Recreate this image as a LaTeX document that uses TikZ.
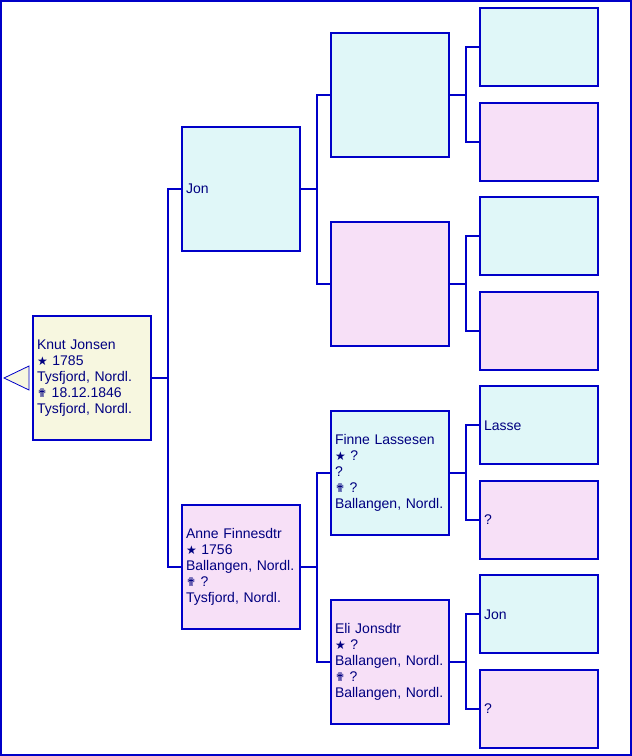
\documentclass[tikz,border=0pt]{standalone}
\usepackage{fontspec}
\setmainfont{Liberation Sans}
\newfontfamily\symfont{DejaVu Sans}
\definecolor{lineblue}{RGB}{0,0,200}
\definecolor{txtblue}{RGB}{0,0,128}
\definecolor{cyanfill}{RGB}{224,247,248}
\definecolor{pinkfill}{RGB}{247,224,247}
\definecolor{creamfill}{RGB}{247,247,224}
\newcommand{\born}{{\symfont\fontsize{12}{16}\selectfont ★}}
\newcommand{\died}{{\symfont\fontsize{12}{16}\selectfont ✟}}
\tikzset{
  personbox/.style={draw=lineblue, line width=2pt, rectangle, text=txtblue,
    text width=110pt, align=left, inner xsep=4pt, inner ysep=0pt,
    minimum height=124pt, font=\fontsize{14}{16}\selectfont},
  rootbox/.style={personbox, fill=creamfill},
  malebox/.style={personbox, fill=cyanfill},
  femalebox/.style={personbox, fill=pinkfill},
  leafbox/.style={minimum height=78pt}
}
\begin{document}
\begin{tikzpicture}[x=1pt, y=-1pt, grow=right, level distance=149pt,
    level 1/.style={sibling distance=378pt},
    level 2/.style={sibling distance=189pt},
    level 3/.style={sibling distance=94.5pt},
    edge from parent/.style={draw=lineblue, line width=2pt},
    edge from parent path={(\tikzparentnode.east) -- ++(16pt,0) |- (\tikzchildnode.west)}]
  \useasboundingbox (0,0) rectangle (632,756);
  \draw[lineblue, line width=2pt] (1,1) rectangle (631,755);
  \node (root) [rootbox] at (92,378) {Knut Jonsen\\ \born{} 1785\\ Tysfjord, Nordl.\\ \died{} 18.12.1846\\ Tysfjord, Nordl.}
    child { node (m) [femalebox] {Anne Finnesdtr\\ \born{} 1756\\ Ballangen, Nordl.\\ \died{} ?\\ Tysfjord, Nordl.}
      child { node (mm) [femalebox] {Eli Jonsdtr\\ \born{} ?\\ Ballangen, Nordl.\\ \died{} ?\\ Ballangen, Nordl.}
        child { node (mmm) [femalebox, leafbox] {?} }
        child { node (mmf) [malebox, leafbox] {Jon} } }
      child { node (mf) [malebox] {Finne Lassesen\\ \born{} ?\\ ?\\ \died{} ?\\ Ballangen, Nordl.}
        child { node (mfm) [femalebox, leafbox] {?} }
        child { node (mff) [malebox, leafbox] {Lasse} } } }
    child { node (f) [malebox] {Jon}
      child { node (fm) [femalebox] {}
        child { node (fmm) [femalebox, leafbox] {} }
        child { node (fmf) [malebox, leafbox] {} } }
      child { node (ff) [malebox] {}
        child { node (ffm) [femalebox, leafbox] {} }
        child { node (fff) [malebox, leafbox] {} } } };
  % back arrow
  \draw[lineblue, fill=creamfill, line width=.8pt] ([xshift=-3pt,yshift=12pt]root.west)
    -- ([xshift=-3pt,yshift=-12pt]root.west) -- ([xshift=-28pt]root.west) -- cycle;
\end{tikzpicture}
\end{document}
